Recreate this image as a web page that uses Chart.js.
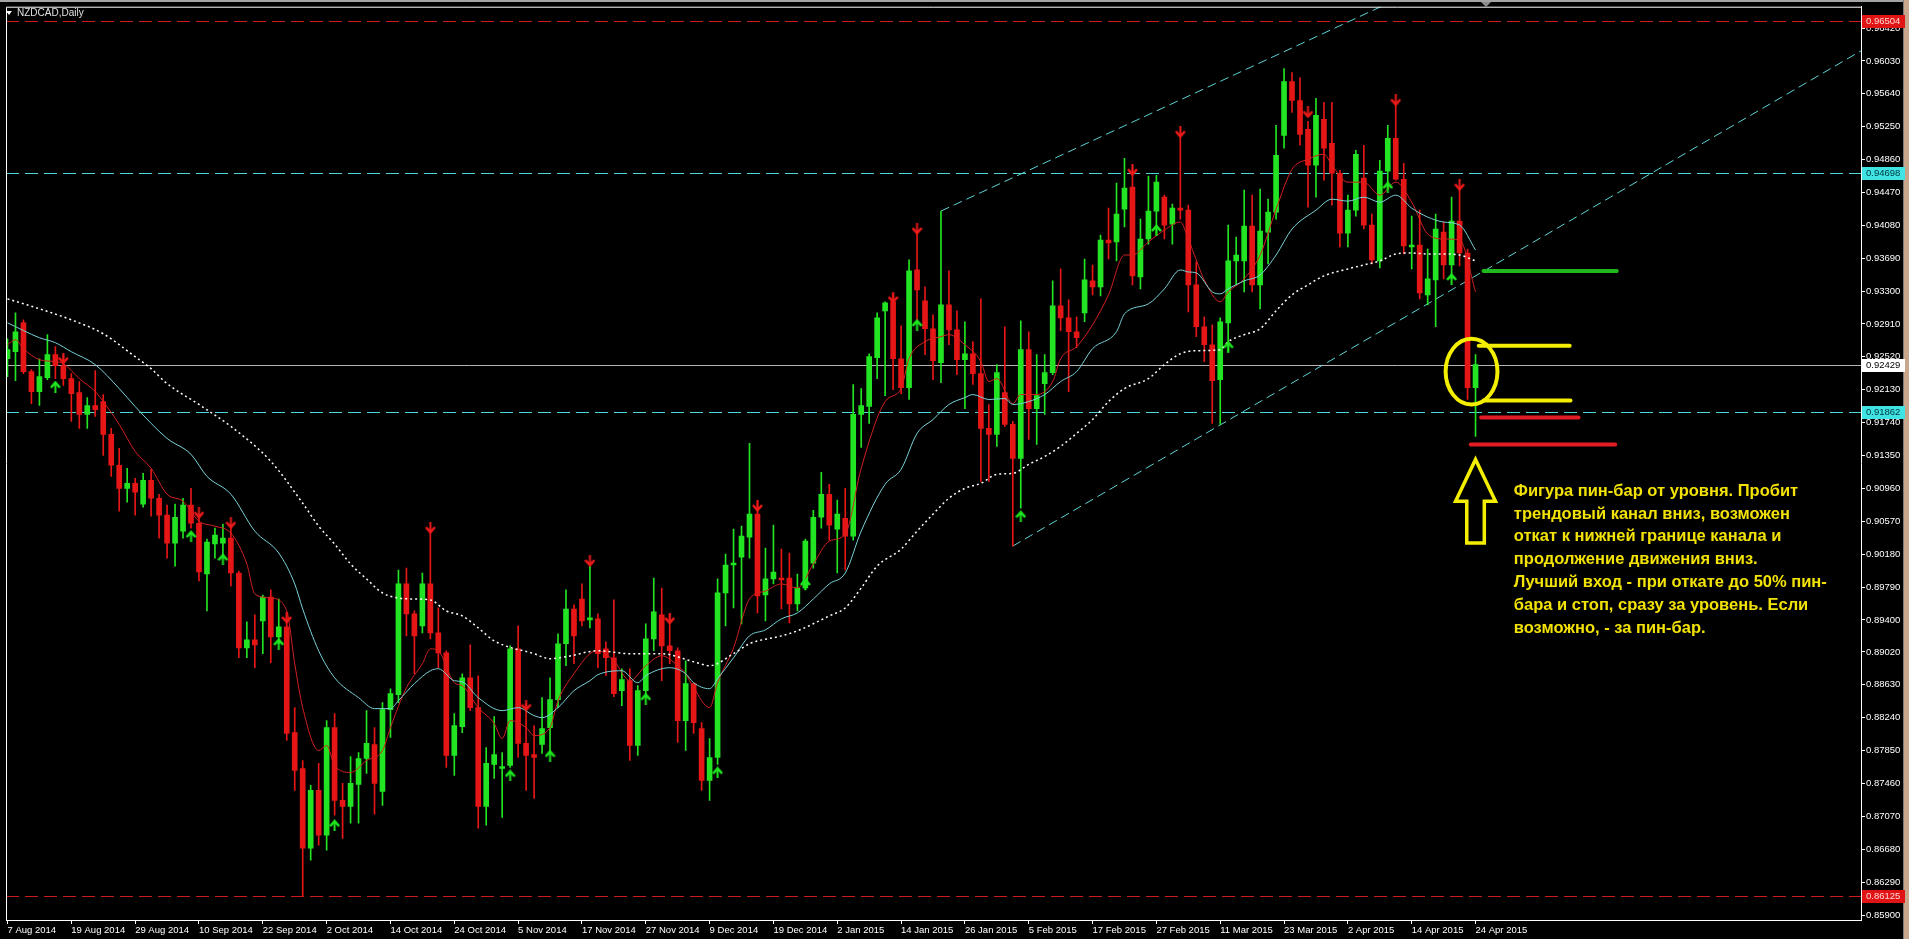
<!DOCTYPE html>
<html>
<head>
<meta charset="utf-8">
<title>NZDCAD,Daily</title>
<script src="https://cdn.jsdelivr.net/npm/chart.js@4.4.1/dist/chart.umd.min.js"></script>
<style>
html, body { margin: 0; padding: 0; background: #000; overflow: hidden; }
#wrap { position: relative; width: 1909px; height: 939px; }
</style>
</head>
<body>
<div id="wrap"><canvas id="myChart"></canvas></div>
<script>
// bar 0 = 7 Aug 2014, one bar per trading day, last bar = 24 Apr 2015
var dateLabels = ['7 Aug 2014', '19 Aug 2014', '29 Aug 2014', '10 Sep 2014', '22 Sep 2014', '2 Oct 2014',
    '14 Oct 2014', '24 Oct 2014', '5 Nov 2014', '17 Nov 2014', '27 Nov 2014', '9 Dec 2014', '19 Dec 2014',
    '2 Jan 2015', '14 Jan 2015', '26 Jan 2015', '5 Feb 2015', '17 Feb 2015', '27 Feb 2015', '11 Mar 2015',
    '23 Mar 2015', '2 Apr 2015', '14 Apr 2015', '24 Apr 2015'];

var yTicks = [0.96420, 0.96030, 0.95640, 0.95250, 0.94860, 0.94470, 0.94080, 0.93690, 0.93300, 0.92910,
    0.92520, 0.92130, 0.91740, 0.91350, 0.90960, 0.90570, 0.90180, 0.89790, 0.89400, 0.89020, 0.88630,
    0.88240, 0.87850, 0.87460, 0.87070, 0.86680, 0.86290, 0.85900];

var opens = [0.92498,0.92581,0.92924,0.92345,0.92108,0.92274,0.92546,0.92416,0.92262,0.92096,
    0.91837,0.91943,0.9199,0.916,0.91234,0.90961,0.9102,0.90773,0.91056,0.90843,
    0.90642,0.90311,0.90453,0.90761,0.90547,0.89945,0.903,0.90311,0.9037,0.89956,
    0.89069,0.89164,0.89389,0.89672,0.89199,0.89318,0.88064,0.87638,0.86692,0.87378,
    0.86846,0.88123,0.8726,0.87189,0.8745,0.87756,0.87923,0.87366,0.88337,0.88514,
    0.89827,0.89472,0.8933,0.89827,0.89246,0.8901,0.87792,0.88135,0.88714,0.8836,
    0.87189,0.87686,0.87638,0.87674,0.89057,0.87935,0.87804,0.87923,0.88123,0.88455,
    0.89117,0.8953,0.89648,0.89401,0.89413,0.89057,0.88951,0.88561,0.88679,0.87911,
    0.88561,0.89175,0.8946,0.89093,0.89034,0.88206,0.88644,0.88111,0.87497,0.87768,
    0.8972,0.90051,0.90145,0.90382,0.90654,0.89696,0.89886,0.89897,0.89897,0.8959,
    0.89779,0.90074,0.90618,0.90891,0.90476,0.90606,0.90394,0.91837,0.91931,0.9251,
    0.93066,0.93173,0.92498,0.92156,0.93551,0.93185,0.92853,0.92451,0.93137,0.92841,
    0.92487,0.92557,0.92321,0.91671,0.916,0.92096,0.91719,0.91316,0.92605,0.91907,
    0.92203,0.92333,0.93125,0.92983,0.92818,0.93042,0.93421,0.9335,0.93906,0.93882,
    0.94272,0.94533,0.93468,0.93918,0.94249,0.94414,0.94095,0.94284,0.9426,0.93374,
    0.92877,0.92664,0.9225,0.92924,0.93658,0.93658,0.94071,0.93374,0.94,0.94237,
    0.95147,0.95786,0.95561,0.95218,0.94793,0.95337,0.95053,0.94698,0.93988,0.9426,
    0.94639,0.94083,0.93658,0.94722,0.95112,0.94627,0.93823,0.93847,0.93256,0.93433,
    0.94,0.9361,0.9413,0.93752,0.92156];

var highs = [0.92735,0.93042,0.92959,0.92368,0.92498,0.92783,0.92641,0.92546,0.92321,0.92227,
    0.92037,0.92357,0.92073,0.91671,0.91434,0.91198,0.91079,0.91138,0.91186,0.90891,
    0.90761,0.90773,0.90843,0.90961,0.90606,0.90358,0.90488,0.90536,0.90512,0.8998,
    0.89377,0.8946,0.89696,0.89756,0.89648,0.89472,0.8836,0.87733,0.87438,0.87698,
    0.88206,0.88289,0.87462,0.8778,0.87827,0.88324,0.88123,0.88419,0.88584,0.89992,
    0.90015,0.89507,0.89956,0.90476,0.89542,0.89034,0.88289,0.88762,0.89105,0.88738,
    0.87887,0.88253,0.87827,0.89093,0.8933,0.88407,0.88147,0.88478,0.88714,0.89235,
    0.89756,0.89578,0.89827,0.90039,0.89472,0.8914,0.89637,0.88821,0.88821,0.8862,
    0.89354,0.89897,0.89779,0.89472,0.89069,0.88916,0.88655,0.88182,0.87993,0.89886,
    0.90181,0.90476,0.90512,0.91493,0.90808,0.90252,0.90524,0.9024,0.90193,0.89945,
    0.90358,0.90701,0.9115,0.91009,0.9082,0.90961,0.92192,0.92144,0.92557,0.93042,
    0.93173,0.93267,0.92889,0.9367,0.94,0.9335,0.93019,0.94249,0.93539,0.93066,
    0.92936,0.927,0.93208,0.91955,0.92428,0.92877,0.91754,0.92948,0.92818,0.92546,
    0.92546,0.93421,0.93563,0.93196,0.92995,0.93681,0.9361,0.93965,0.94284,0.9458,
    0.94875,0.94769,0.94154,0.94663,0.94674,0.94438,0.94331,0.95124,0.9432,0.93646,
    0.92995,0.929,0.92983,0.94083,0.93941,0.94497,0.94438,0.94509,0.9439,0.95266,
    0.9594,0.95892,0.95833,0.95313,0.95585,0.95538,0.95538,0.94733,0.94438,0.9497,
    0.9503,0.94213,0.94852,0.95266,0.95514,0.94816,0.9419,0.9426,0.93799,0.94213,
    0.94119,0.94414,0.94533,0.93799,0.92546];

var lows = [0.92286,0.92239,0.92321,0.91966,0.91943,0.9225,0.92262,0.9218,0.91754,0.91671,
    0.91671,0.91813,0.91352,0.91103,0.90689,0.90796,0.90642,0.90737,0.9063,0.9037,
    0.90133,0.90039,0.9037,0.90488,0.89862,0.89507,0.90133,0.90157,0.89803,0.88951,
    0.88951,0.88833,0.88999,0.88892,0.89117,0.8797,0.87378,0.86125,0.86551,0.86728,
    0.86669,0.87083,0.8681,0.86989,0.86989,0.8758,0.87095,0.87201,0.88005,0.88419,
    0.89211,0.88762,0.89246,0.89175,0.88833,0.8765,0.87556,0.88064,0.88324,0.86929,
    0.86965,0.8752,0.87059,0.8765,0.87768,0.87378,0.87283,0.87816,0.87816,0.8836,
    0.88857,0.88881,0.8933,0.89306,0.88833,0.88738,0.8849,0.88384,0.87733,0.87792,
    0.88502,0.89034,0.88679,0.88881,0.87946,0.87851,0.88053,0.87378,0.8726,0.87686,
    0.8933,0.89542,0.89354,0.90133,0.89483,0.89389,0.89827,0.8953,0.89365,0.89507,
    0.89756,0.90015,0.90488,0.90346,0.89956,0.89992,0.90346,0.91446,0.9173,0.92262,
    0.92061,0.92132,0.92084,0.92014,0.92959,0.92546,0.9225,0.92215,0.92664,0.9231,
    0.91907,0.92192,0.91044,0.91044,0.91458,0.91695,0.90276,0.90725,0.91541,0.91482,
    0.91837,0.9231,0.9283,0.92108,0.92629,0.92936,0.93256,0.93244,0.93681,0.93658,
    0.9406,0.93374,0.93326,0.93858,0.93965,0.93918,0.93858,0.94154,0.93054,0.92759,
    0.92463,0.9173,0.91719,0.92581,0.93374,0.93291,0.93291,0.93089,0.93622,0.94154,
    0.94994,0.95419,0.9503,0.94296,0.94414,0.94615,0.9432,0.93823,0.93823,0.9419,
    0.94036,0.93622,0.93575,0.94509,0.94615,0.9374,0.93563,0.93208,0.93137,0.92877,
    0.93445,0.93445,0.93598,0.92014,0.91576];

var closes = [0.92605,0.92818,0.92345,0.92108,0.92286,0.92546,0.92416,0.92262,0.92084,0.91837,
    0.91943,0.91895,0.916,0.91234,0.90961,0.9102,0.90914,0.91056,0.90843,0.90642,
    0.90311,0.90618,0.90761,0.90547,0.89968,0.90323,0.90406,0.9037,0.89956,0.89069,
    0.89164,0.89105,0.89672,0.89199,0.89318,0.88053,0.87615,0.86692,0.87378,0.86846,
    0.88123,0.8726,0.87189,0.87462,0.87756,0.87935,0.87462,0.88337,0.88526,0.89827,
    0.89472,0.89211,0.89827,0.89246,0.8901,0.87792,0.88147,0.88714,0.8836,0.87189,
    0.87698,0.87804,0.87662,0.89057,0.87935,0.87792,0.87768,0.88111,0.88455,0.89117,
    0.8953,0.89211,0.89389,0.89424,0.88999,0.88951,0.88526,0.88691,0.87911,0.88561,
    0.89175,0.89495,0.89093,0.89034,0.88206,0.88644,0.88182,0.87497,0.87768,0.8972,
    0.90051,0.90074,0.90394,0.90654,0.89684,0.89886,0.89968,0.89874,0.8959,0.89779,
    0.90335,0.90618,0.90891,0.90524,0.90654,0.90394,0.91837,0.91943,0.92522,0.92983,
    0.93161,0.92498,0.92156,0.93539,0.93315,0.92853,0.92475,0.93137,0.92841,0.92487,
    0.92557,0.92321,0.91671,0.916,0.92333,0.91719,0.91316,0.92605,0.91907,0.92061,
    0.92333,0.93125,0.92983,0.92818,0.92747,0.93433,0.9335,0.93906,0.9387,0.94213,
    0.94521,0.9348,0.93918,0.94249,0.94592,0.94083,0.94284,0.9426,0.93374,0.92877,
    0.92664,0.92239,0.92936,0.93658,0.93728,0.94071,0.93374,0.94012,0.94237,0.94911,
    0.95786,0.95561,0.95159,0.94793,0.95384,0.94994,0.94698,0.93988,0.9426,0.94923,
    0.94083,0.93669,0.94722,0.95112,0.94627,0.93835,0.93847,0.93279,0.93445,0.94036,
    0.9361,0.9413,0.93752,0.92156,0.92429];

// moving averages as [bar, price]
var maFast = [[0,0.92664],[1,0.92723],[2,0.92617],[4,0.92487],[6,0.92463],[7,0.9244],[9,0.92262],[11,0.92108],
    [12,0.9199],[14,0.91719],[16,0.91399],[18,0.91198],[20,0.90891],[22,0.90808],[24,0.90571],[26,0.90512],
    [28,0.90429],[30,0.90063],[31,0.89708],[33,0.8966],[35,0.89507],[36,0.88881],[37,0.8836],[39,0.87851],
    [40,0.87911],[41,0.87674],[43,0.87591],[45,0.87733],[47,0.87851],[48,0.88123],[50,0.88596],[52,0.88881],
    [53,0.89057],[54,0.89034],[56,0.88655],[57,0.8862],[59,0.8836],[61,0.88171],[62,0.87993],[63,0.88206],
    [65,0.88123],[66,0.88029],[68,0.88123],[69,0.88443],[71,0.88762],[73,0.88999],[74,0.89034],[76,0.88916],
    [78,0.88679],[80,0.88857],[82,0.88975],[84,0.88857],[85,0.88762],[86,0.88596],[88,0.8836],[89,0.88655],
    [91,0.89069],[93,0.89648],[95,0.89743],[97,0.89827],[99,0.89779],[101,0.90063],[103,0.90335],[105,0.90417],
    [107,0.91198],[110,0.9199],[112,0.92144],[113,0.92498],[115,0.927],[117,0.92759],[118,0.92783],[120,0.92664],
    [122,0.92463],[123,0.92227],[124,0.92262],[126,0.91966],[127,0.92073],[129,0.92073],[131,0.92227],[132,0.92498],
    [134,0.92641],[136,0.929],[138,0.93256],[140,0.93728],[141,0.93728],[143,0.93882],[145,0.94024],[147,0.94119],
    [148,0.93918],[149,0.93669],[150,0.93433],[152,0.93173],[153,0.93291],[155,0.93445],[157,0.93728],[159,0.94272],
    [161,0.94745],[163,0.94864],[165,0.94923],[166,0.94793],[168,0.94592],[170,0.94592],[172,0.94438],[174,0.94592],
    [176,0.94355],[178,0.93977],[180,0.93918],[182,0.93906],[184,0.93291]];

var maMid = [[0,0.92924],[4,0.92747],[6,0.92688],[8,0.92581],[11,0.92428],[14,0.92144],[16,0.91931],[20,0.91553],
    [23,0.91364],[25,0.91103],[28,0.90891],[31,0.90453],[34,0.90193],[36,0.89827],[37,0.8953],[39,0.89034],
    [41,0.88714],[44,0.88478],[46,0.88348],[48,0.88348],[49,0.88443],[51,0.88644],[53,0.88797],[54,0.88821],
    [56,0.88679],[57,0.88667],[59,0.88478],[62,0.88324],[64,0.8836],[66,0.88265],[67,0.88241],[69,0.8836],
    [71,0.88561],[73,0.88679],[74,0.8875],[77,0.88797],[79,0.88655],[80,0.88738],[83,0.88833],[85,0.88762],
    [86,0.88655],[88,0.88584],[89,0.88703],[91,0.88951],[93,0.89211],[95,0.89282],[97,0.89413],[99,0.89483],
    [101,0.89648],[103,0.89827],[105,0.89956],[107,0.90453],[110,0.91009],[112,0.91186],[114,0.91612],[116,0.91777],
    [118,0.91955],[120,0.92037],[121,0.92073],[123,0.92014],[125,0.92026],[126,0.91955],[128,0.9199],[130,0.92073],
    [132,0.92227],[134,0.92345],[136,0.92617],[139,0.92818],[140,0.9303],[143,0.93149],[145,0.93326],[147,0.93551],
    [148,0.93527],[149,0.93516],[151,0.93291],[152,0.93267],[153,0.93326],[155,0.93421],[157,0.93492],[159,0.93728],
    [161,0.94036],[164,0.9426],[166,0.9439],[168,0.94367],[170,0.94414],[172,0.94355],[174,0.94438],[176,0.94284],
    [178,0.94178],[180,0.94119],[182,0.94083],[184,0.93787]];

var maSlow = [[0,0.93208],[4,0.9309],[8,0.92959],[12,0.92794],[16,0.92522],[18,0.9238],[20,0.92203],[24,0.91955],
    [28,0.91695],[33,0.91281],[37,0.90784],[39,0.90512],[41,0.903],[43,0.90063],[45,0.89886],[47,0.8972],
    [49,0.8966],[51,0.89648],[53,0.89637],[55,0.89507],[57,0.89448],[59,0.89306],[61,0.89152],[66,0.88999],
    [68,0.8894],[70,0.88963],[74,0.89034],[78,0.88999],[82,0.88999],[86,0.88904],[88,0.88857],[91,0.88999],
    [93,0.89117],[97,0.89211],[99,0.8927],[103,0.89448],[105,0.89542],[107,0.89779],[109,0.90039],[112,0.9024],
    [114,0.90453],[116,0.90654],[118,0.90843],[120,0.90961],[122,0.9102],[124,0.91127],[126,0.91138],[128,0.91245],
    [130,0.91339],[132,0.91458],[134,0.91612],[136,0.91777],[138,0.9199],[140,0.92144],[143,0.92262],[145,0.92428],
    [147,0.92557],[149,0.92593],[152,0.92605],[153,0.927],[155,0.92783],[157,0.92853],[159,0.93066],[161,0.93256],
    [163,0.93374],[165,0.9348],[168,0.93563],[170,0.9361],[172,0.93658],[174,0.9374],[176,0.93752],[178,0.9374],
    [180,0.9374],[182,0.93728],[184,0.93658]];

// signal arrows
var upArrowBars = [6, 23, 27, 34, 41, 63, 68, 80, 89, 100, 114, 127, 144, 153, 173, 181];
var upArrowPrices = [0.92167, 0.90394, 0.90121, 0.89117, 0.86965, 0.87556, 0.87792, 0.88466, 0.87591, 0.89827,
    0.929, 0.9063, 0.94024, 0.92641, 0.94533, 0.93445];
var downArrowBars = [7, 24, 28, 35, 53, 65, 73, 83, 94, 111, 114, 141, 147, 163, 174, 182];
var downArrowPrices = [0.92498, 0.90666, 0.90547, 0.89424, 0.90488, 0.88384, 0.90098, 0.89413, 0.90749, 0.9322,
    0.94036, 0.94733, 0.95183, 0.95419, 0.95561, 0.94556];

// horizontal levels: red, cyan, bid, cyan, red
var levelPrices = [0.96504, 0.94698, 0.92429, 0.91862, 0.86125];

// channel rays, two points each [bar, price]
var channelUpper = [[117, 0.94249], [149, 0.95656]];
var channelLower = [[126, 0.90276], [187, 0.93646]];

// hand drawn marks at the right
var pinRing = [183.5, 0.92345, 3.25, 0.0039];          // centre bar, centre price, half width (bars), half height
var pinLines = [[184.4, 195.8, 0.92652], [185.0, 195.9, 0.92002]];
var entryLine = [185.0, 201.7, 0.93539];
var stopLines = [[184.7, 196.9, 0.91801], [183.4, 201.5, 0.91482]];
var hintArrow = [184.0, 0.91304, 0.90808, 0.90311, 2.5, 1.1]; // bar, tip, head base, tail, head half width, shaft half width
var notePos = [188.8, 0.90926];
var noteLines = ['Фигура пин-бар от уровня. Пробит',
    'трендовый канал вниз, возможен',
    'откат к нижней границе канала и',
    'продолжение движения вниз.',
    'Лучший вход - при откате до 50% пин-',
    'бара и стоп, сразу за уровень. Если',
    'возможно, - за пин-бар.'];

var bull = '#22e422';
var bear = '#e61616';
var candleColors = opens.map(function (o, i) { return closes[i] >= o ? bull : bear; });
var bodies = opens.map(function (o, i) { return { x: i, y: [o, closes[i]] }; });
var wicks = lows.map(function (l, i) { return { x: i, y: [l, highs[i]] }; });

function toPoints(list) {
    return list.map(function (p) { return { x: p[0], y: p[1] }; });
}

function arrowImage(color, up) {
    var c = document.createElement('canvas');
    c.width = 11;
    c.height = 12;
    var g = c.getContext('2d');
    if (!up) { g.translate(0, 12); g.scale(1, -1); }
    g.fillStyle = color;
    g.strokeStyle = color;
    g.fillRect(4.5, 2, 2, 10);
    g.lineWidth = 2.6;
    g.beginPath();
    g.moveTo(1, 7);
    g.lineTo(5.5, 2);
    g.lineTo(10, 7);
    g.stroke();
    return c;
}
var upImg = arrowImage('#1ee81e', true);
var downImg = arrowImage('#ee1a1a', false);

var levelLook = [
    { line: '#c81c1c', dash: [13, 6], box: '#e01414', text: '#ffd8d8' },
    { line: '#4fd6d6', dash: [13, 6], box: '#3fe3e3', text: '#00343c' },
    { line: '#b4b4b4', dash: [], box: '#ffffff', text: '#000000' },
    { line: '#4fd6d6', dash: [13, 6], box: '#3fe3e3', text: '#00343c' },
    { line: '#c81c1c', dash: [13, 6], box: '#e01414', text: '#ffd8d8' }
];

var mt4 = {
    id: 'mt4',
    beforeDraw: function (chart) {
        var c = chart.ctx;
        c.save();
        c.fillStyle = '#000000';
        c.fillRect(0, 0, chart.width, chart.height);
        c.restore();
    },
    beforeDatasetsDraw: function (chart) {
        var c = chart.ctx, a = chart.chartArea;
        var xs = chart.scales.x, ys = chart.scales.y;
        c.save();
        c.beginPath();
        c.rect(a.left, a.top, a.right - a.left, a.bottom - a.top);
        c.clip();
        levelPrices.forEach(function (p, i) {
            var y = Math.round(ys.getPixelForValue(p)) + 0.5;
            c.strokeStyle = levelLook[i].line;
            c.lineWidth = 1;
            c.setLineDash(levelLook[i].dash);
            c.beginPath();
            c.moveTo(a.left, y);
            c.lineTo(a.right, y);
            c.stroke();
        });
        c.setLineDash([9, 5]);
        c.strokeStyle = '#5fd3d3';
        [channelUpper, channelLower].forEach(function (ray) {
            var x1 = xs.getPixelForValue(ray[0][0]), y1 = ys.getPixelForValue(ray[0][1]);
            var x2 = xs.getPixelForValue(ray[1][0]), y2 = ys.getPixelForValue(ray[1][1]);
            var k = (y2 - y1) / (x2 - x1);
            c.beginPath();
            c.moveTo(x1, y1);
            c.lineTo(a.right, y1 + k * (a.right - x1));
            c.stroke();
        });
        c.restore();
    },
    afterDraw: function (chart) {
        var c = chart.ctx, a = chart.chartArea;
        var xs = chart.scales.x, ys = chart.scales.y;
        c.save();
        // window frame bits
        c.fillStyle = '#a4a4a4';
        c.fillRect(0, 0, chart.width, 2);
        c.fillStyle = '#c8a68c';
        c.fillRect(1904, 0, 5, chart.height);
        c.fillStyle = '#7c7c7c';
        c.fillRect(1903, 0, 1, chart.height);
        c.strokeStyle = '#ffffff';
        c.lineWidth = 1;
        c.beginPath();
        c.moveTo(a.left + 0.5, a.bottom);
        c.lineTo(a.left + 0.5, a.top + 0.5);
        c.lineTo(a.right, a.top + 0.5);
        c.stroke();
        c.fillStyle = '#8c8c8c';
        c.beginPath();
        c.moveTo(1481, 2);
        c.lineTo(1491, 2);
        c.lineTo(1486, 7);
        c.closePath();
        c.fill();
        // title
        c.fillStyle = '#ffffff';
        c.beginPath();
        c.moveTo(6, 11);
        c.lineTo(12, 11);
        c.lineTo(9, 15);
        c.closePath();
        c.fill();
        c.fillStyle = '#e0e0e0';
        c.font = '10px "Liberation Sans", Arial, sans-serif';
        c.textBaseline = 'middle';
        c.textAlign = 'left';
        c.fillText('NZDCAD,Daily', 17, 13);

        // marks drawn over the chart
        c.beginPath();
        c.rect(a.left, a.top, a.right - a.left, a.bottom - a.top);
        c.clip();
        function seg(s, color, w) {
            var y = ys.getPixelForValue(s[2]);
            c.strokeStyle = color;
            c.lineWidth = w;
            c.lineCap = 'round';
            c.beginPath();
            c.moveTo(xs.getPixelForValue(s[0]), y);
            c.lineTo(xs.getPixelForValue(s[1]), y);
            c.stroke();
        }
        seg(entryLine, '#1fb81f', 4);
        stopLines.forEach(function (s) { seg(s, '#e21c24', 4); });
        pinLines.forEach(function (s) { seg(s, '#f4ee00', 4); });

        var cx = xs.getPixelForValue(pinRing[0]), cy = ys.getPixelForValue(pinRing[1]);
        var rx = xs.getPixelForValue(pinRing[0] + pinRing[2]) - cx;
        var ry = cy - ys.getPixelForValue(pinRing[1] + pinRing[3]);
        c.strokeStyle = '#f4ee00';
        c.lineWidth = 4;
        c.beginPath();
        c.ellipse(cx, cy, rx, ry, 0, 0, Math.PI * 2);
        c.stroke();

        var ax = xs.getPixelForValue(hintArrow[0]);
        var tip = ys.getPixelForValue(hintArrow[1]);
        var base = ys.getPixelForValue(hintArrow[2]);
        var tail = ys.getPixelForValue(hintArrow[3]);
        var hw = xs.getPixelForValue(hintArrow[0] + hintArrow[4]) - ax;
        var sw = xs.getPixelForValue(hintArrow[0] + hintArrow[5]) - ax;
        c.lineWidth = 3.5;
        c.lineJoin = 'miter';
        c.beginPath();
        c.moveTo(ax, tip);
        c.lineTo(ax + hw, base);
        c.lineTo(ax + sw, base);
        c.lineTo(ax + sw, tail);
        c.lineTo(ax - sw, tail);
        c.lineTo(ax - sw, base);
        c.lineTo(ax - hw, base);
        c.closePath();
        c.stroke();

        c.fillStyle = '#f2e205';
        c.font = 'bold 16.5px "Liberation Sans", Arial, sans-serif';
        c.textAlign = 'left';
        c.textBaseline = 'middle';
        var tx = xs.getPixelForValue(notePos[0]), ty = ys.getPixelForValue(notePos[1]);
        noteLines.forEach(function (t, i) { c.fillText(t, tx, ty + i * 22.8); });
        c.restore();

        // price boxes on the right scale
        c.save();
        c.font = '9.5px "Liberation Sans", Arial, sans-serif';
        c.textBaseline = 'middle';
        c.textAlign = 'left';
        levelPrices.forEach(function (p, i) {
            var y = Math.round(ys.getPixelForValue(p));
            c.fillStyle = levelLook[i].box;
            c.fillRect(a.right + 1, y - 6, 43, 13);
            c.fillStyle = levelLook[i].text;
            c.fillText(p.toFixed(5), a.right + 5, y + 0.5);
        });
        c.restore();
    }
};

var ctx = document.getElementById('myChart').getContext('2d');
var tickFont = { family: '"Liberation Sans", Arial, sans-serif', size: 9.5 };
var myChart = new Chart(ctx, {
    type: 'bar',
    data: {
        datasets: [
            // indicators on top of the candles
            { type: 'scatter', data: upArrowBars.map(function (b, i) { return { x: b, y: upArrowPrices[i] }; }),
              pointStyle: upImg, pointRadius: 5, order: 0 },
            { type: 'scatter', data: downArrowBars.map(function (b, i) { return { x: b, y: downArrowPrices[i] }; }),
              pointStyle: downImg, pointRadius: 5, order: 0 },
            { type: 'line', data: toPoints(maSlow), borderColor: '#ffffff', borderWidth: 1.5, borderDash: [2, 3],
              pointRadius: 0, cubicInterpolationMode: 'monotone', order: 1 },
            { type: 'line', data: toPoints(maMid), borderColor: '#78d2d8', borderWidth: 1,
              pointRadius: 0, cubicInterpolationMode: 'monotone', order: 1 },
            { type: 'line', data: toPoints(maFast), borderColor: '#d42020', borderWidth: 1,
              pointRadius: 0, cubicInterpolationMode: 'monotone', order: 1 },
            // candles
            { data: bodies, backgroundColor: candleColors, barThickness: 5, minBarLength: 1,
              grouped: false, borderWidth: 0, order: 3 },
            { data: wicks, backgroundColor: candleColors, barThickness: 1,
              grouped: false, borderWidth: 0, order: 4 }
        ]
    },
    options: {
        responsive: true,
        maintainAspectRatio: false,
        animation: false,
        events: [],
        layout: { padding: { left: 1, top: 4, right: 0, bottom: 0 } },
        plugins: { legend: { display: false }, tooltip: { enabled: false } },
        scales: {
            x: {
                type: 'linear',
                min: -0.1875,
                max: 232.3125,
                offset: false,
                grid: { offset: false, drawOnChartArea: false, drawTicks: true, tickLength: 4, color: '#ffffff' },
                border: { display: true, color: '#ffffff', width: 1 },
                ticks: {
                    autoSkip: false, maxRotation: 0, minRotation: 0, align: 'start', padding: 1,
                    color: '#ffffff', font: tickFont,
                    callback: function (v, i) { return dateLabels[i]; }
                },
                afterBuildTicks: function (axis) {
                    axis.ticks = dateLabels.map(function (t, i) { return { value: i * 8 }; });
                },
                afterFit: function (axis) { axis.height = 19; }
            },
            y: {
                type: 'linear',
                position: 'right',
                min: 0.85841,
                max: 0.96673,
                grid: { drawOnChartArea: false, drawTicks: true, tickLength: 4, color: '#ffffff' },
                border: { display: true, color: '#ffffff', width: 1 },
                ticks: {
                    autoSkip: false, padding: 1, color: '#ffffff', font: tickFont,
                    callback: function (v) { return Number(v).toFixed(5); }
                },
                afterBuildTicks: function (axis) {
                    axis.ticks = yTicks.map(function (v) { return { value: v }; });
                },
                afterFit: function (axis) { axis.width = 48; }
            }
        }
    },
    plugins: [mt4]
});
</script>
</body>
</html>
